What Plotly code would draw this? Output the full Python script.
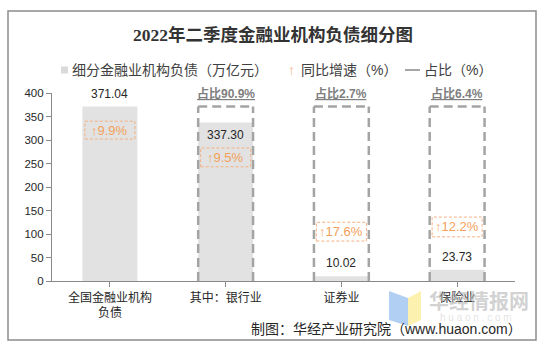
import plotly.graph_objects as go

# ---------------- data ----------------
categories = ["全国金融业机构<br>负债", "其中：银行业", "证券业", "保险业"]
liabilities = [371.04, 337.30, 10.02, 23.73]          # 万亿元
growth = [9.9, 9.5, 17.6, 12.2]                        # 同比增速 %
share = [None, 90.9, 2.7, 6.4]                         # 占比 %
y_ticks = [0, 50, 100, 150, 200, 250, 300, 350, 400]

# ---------------- layout helpers (positions/styles) ----------------
value_label_y = [398, 310, 38, 51]
growth_box_y = [(302, 340), (243, 283), (85, 125), (94, 136)]
share_label_y = 400

L, R, T, B = 52, 515, 93, 281
W, H = R - L, B - T


def px(x):
    return (x - L) / W


def py(y):
    return (B - y) / H


FONT = "Liberation Sans, Arial, Noto Sans CJK SC, sans-serif"
TXT = "#404040"
GRAY_BAR = "#E1E2E1"
DASH_GRAY = "#A3A5A3"
ORANGE = "#F4A05A"
ORANGE_BOX = "#F4B183"

fig = go.Figure()
fig.add_trace(go.Bar(
    x=list(range(len(categories))), y=liabilities, width=0.475,
    marker=dict(color=GRAY_BAR, line=dict(width=0)),
    hoverinfo="skip", showlegend=False,
))

shapes = []
annotations = []
half = 0.237
total = liabilities[0]

# dashed rectangles (share of total)
for i in range(1, len(categories)):
    for (x0, y0, x1, y1) in [(i - half, 0, i - half, total),
                             (i - half, total, i + half, total),
                             (i + half, 0, i + half, total)]:
        shapes.append(dict(type="line", xref="x", yref="y", x0=x0, y0=y0, x1=x1, y1=y1,
                           line=dict(color=DASH_GRAY, width=2.5, dash="9px,5px"), layer="above"))
    annotations.append(dict(xref="x", yref="y", x=i, y=share_label_y, yanchor="middle",
                            text=f"<b><u>占比{share[i]}%</u></b>", showarrow=False,
                            font=dict(family=FONT, size=12, color="#7F7F7F")))

# growth boxes
for i, g in enumerate(growth):
    y0, y1 = growth_box_y[i]
    shapes.append(dict(type="rect", xref="x", yref="y", x0=i - 0.216, x1=i + 0.216, y0=y0, y1=y1,
                       line=dict(color=ORANGE_BOX, width=1, dash="3px,2px"), layer="above"))
    annotations.append(dict(xref="x", yref="y", x=i, y=(y0 + y1) / 2, yanchor="middle",
                            text=f"↑{g}%", showarrow=False,
                            font=dict(family=FONT, size=13, color=ORANGE)))

# value labels
for i, v in enumerate(liabilities):
    annotations.append(dict(xref="x", yref="y", x=i, y=value_label_y[i], yanchor="middle",
                            text=f"{v:.2f}", showarrow=False,
                            font=dict(family=FONT, size=12, color="#262626")))

# outer frame
shapes.append(dict(type="rect", xref="paper", yref="paper", x0=px(8), x1=px(536), y0=py(340), y1=py(11),
                   line=dict(color="#8C8C8C", width=1.5), layer="below"))

# title
annotations.append(dict(xref="paper", yref="paper", x=px(273), y=py(35), xanchor="center", yanchor="middle",
                        text="<b>2022年二季度金融业机构负债细分图</b>", showarrow=False,
                        font=dict(family="Liberation Serif, Noto Sans CJK SC, serif", size=17.5, color="#333333")))

# legend (custom)
shapes.append(dict(type="rect", xref="paper", yref="paper", x0=px(61), x1=px(68), y0=py(73.5), y1=py(66.5),
                   fillcolor="#DADADA", line=dict(width=0)))
annotations.append(dict(xref="paper", yref="paper", x=px(70), y=py(70), xanchor="left", yanchor="middle",
                        text="细分金融业机构负债（万亿元）", showarrow=False,
                        font=dict(family=FONT, size=14, color=TXT)))
annotations.append(dict(xref="paper", yref="paper", x=px(291), y=py(70), xanchor="center", yanchor="middle",
                        text="↑", showarrow=False, font=dict(family=FONT, size=14, color="#F6BB93")))
annotations.append(dict(xref="paper", yref="paper", x=px(299), y=py(70), xanchor="left", yanchor="middle",
                        text="同比增速（%）", showarrow=False, font=dict(family=FONT, size=14, color=TXT)))
shapes.append(dict(type="line", xref="paper", yref="paper", x0=px(405), x1=px(420), y0=py(70), y1=py(70),
                   line=dict(color="#A6A6A6", width=2)))
annotations.append(dict(xref="paper", yref="paper", x=px(422), y=py(70), xanchor="left", yanchor="middle",
                        text="占比（%）", showarrow=False, font=dict(family=FONT, size=14, color=TXT)))

# watermark logo
shapes.append(dict(type="path", xref="paper", yref="paper",
                   path=f"M {px(389)},{py(291)} L {px(408)},{py(298)} L {px(408)},{py(326)} L {px(389)},{py(320)} Z",
                   fillcolor="#A9C9F2", line=dict(width=0), layer="above", opacity=0.9))
shapes.append(dict(type="path", xref="paper", yref="paper",
                   path=f"M {px(408)},{py(298)} L {px(421)},{py(291)} L {px(421)},{py(320)} L {px(408)},{py(326)} Z",
                   fillcolor="#FCF0A6", line=dict(width=0), layer="above", opacity=0.9))
annotations.append(dict(xref="paper", yref="paper", x=px(427), y=py(300), xanchor="left", yanchor="middle",
                        text="<b>华经情报网</b>", showarrow=False,
                        font=dict(family="Noto Sans CJK SC, sans-serif", size=20, color="rgba(180,180,180,0.6)")))
annotations.append(dict(xref="paper", yref="paper", x=px(476), y=py(317), xanchor="center", yanchor="middle",
                        text="h u a o n . c o m", showarrow=False,
                        font=dict(family=FONT, size=10, color="rgba(200,200,200,0.5)")))

# footer
annotations.append(dict(xref="paper", yref="paper", x=px(524), y=py(329), xanchor="right", yanchor="middle",
                        text="制图：华经产业研究院（www.huaon.com）", showarrow=False,
                        font=dict(family=FONT, size=14, color="#262626")))

fig.update_layout(
    width=546, height=348,
    margin=dict(l=L, r=546 - R, t=T, b=348 - B, autoexpand=False),
    paper_bgcolor="white", plot_bgcolor="white",
    shapes=shapes, annotations=annotations,
    showlegend=False, bargap=0.5,
    font=dict(family=FONT, color=TXT),
    xaxis=dict(
        tickmode="array", tickvals=list(range(len(categories))), ticktext=categories,
        range=[-0.5, len(categories) - 0.5],
        showline=True, linecolor="#898989", linewidth=1.2,
        ticks="outside", ticklen=5, tickcolor="#898989", showgrid=False, zeroline=False,
        tickfont=dict(family=FONT, size=12, color="#262626"),
    ),
    yaxis=dict(
        range=[0, 400], tickmode="array", tickvals=y_ticks,
        showline=True, linecolor="#898989", linewidth=1.2,
        ticks="outside", ticklen=5, tickcolor="#898989", showgrid=False, zeroline=False,
        tickfont=dict(family=FONT, size=11.5, color="#262626"),
    ),
)

fig.write_html("out.html")
